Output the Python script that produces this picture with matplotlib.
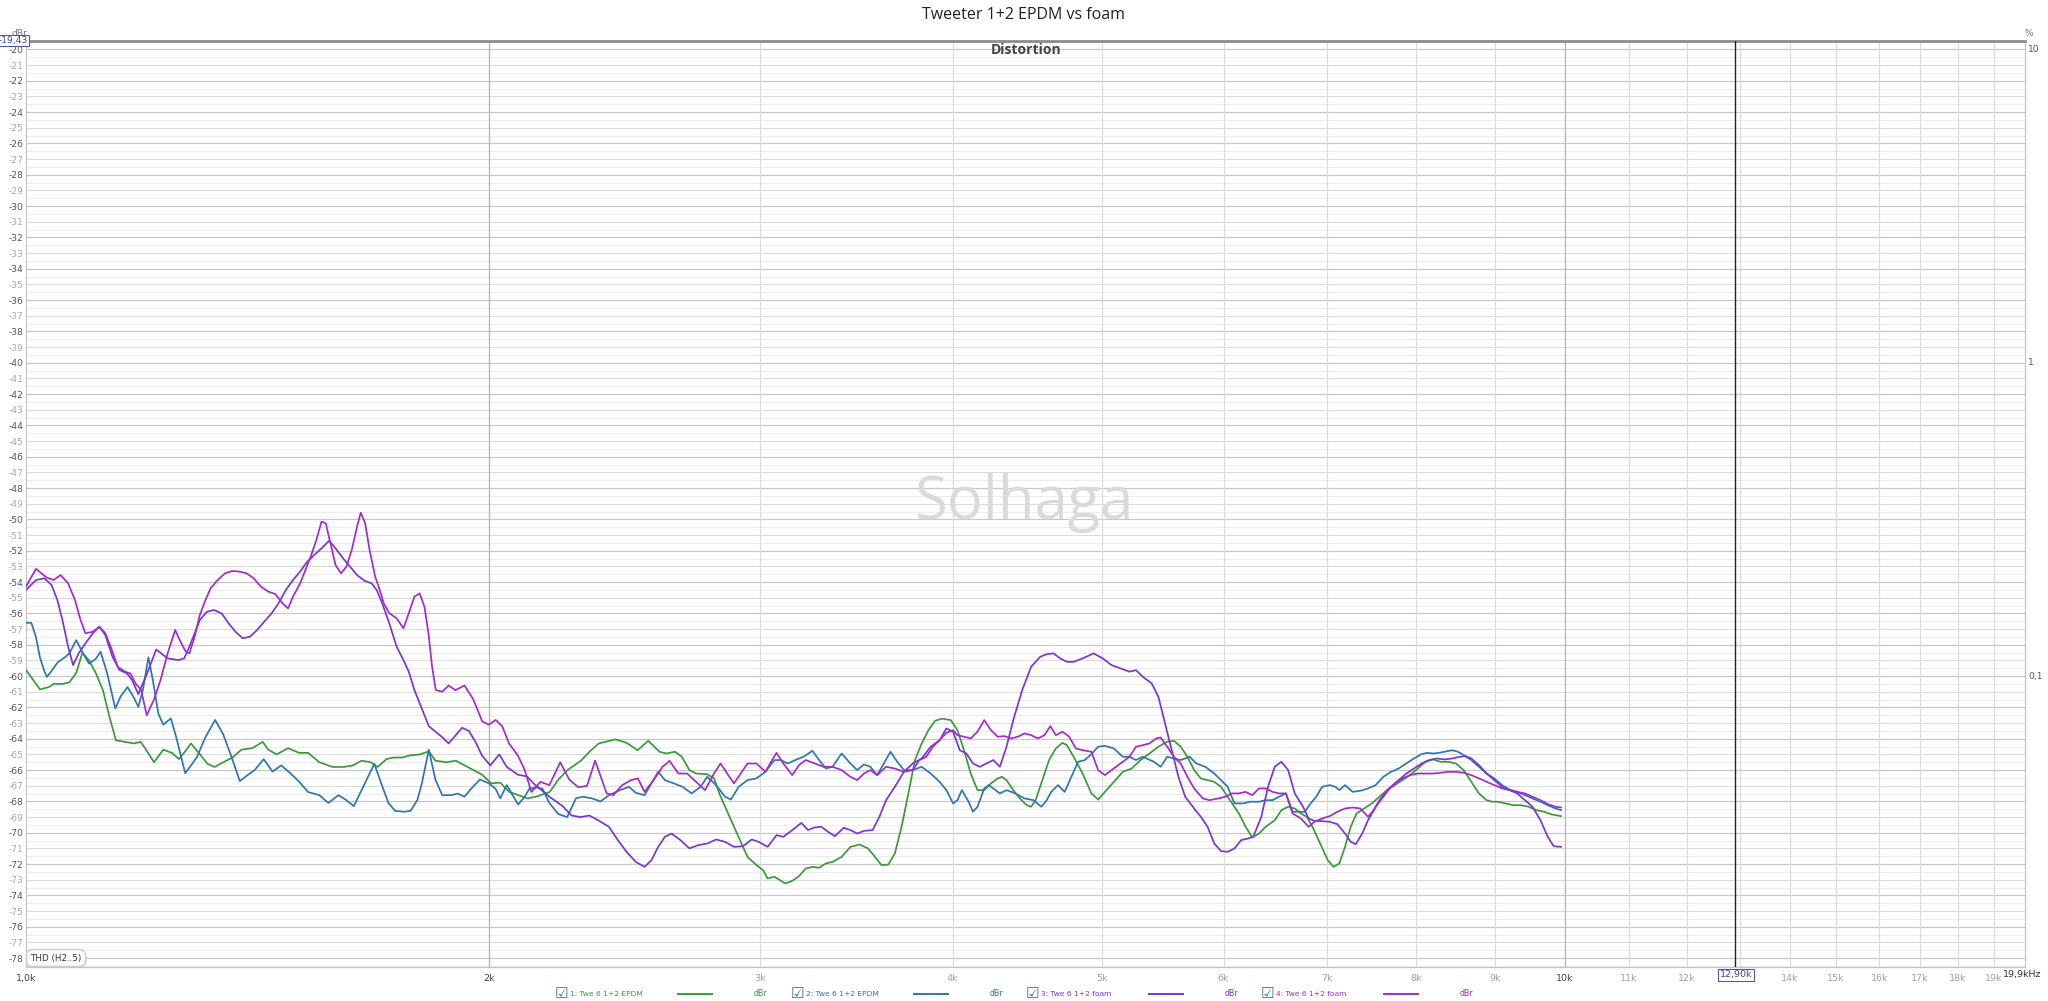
import numpy as np
import matplotlib
matplotlib.use('Agg')
import matplotlib.pyplot as plt
from matplotlib.lines import Line2D
from matplotlib.transforms import blended_transform_factory

# ---------------- data ----------------
title = 'Tweeter 1+2 EPDM vs foam'
subtitle = 'Distortion'
watermark = 'Solhaga'

series_labels = ['1: Twe 6 1+2 EPDM', '2: Twe 6 1+2 EPDM', '3: Twe 6 1+2 foam', '4: Twe 6 1+2 foam']
series_colors = ['#3a9a3a', '#2e75b6', '#7b35d6', '#a22ccb']

s1_freq = [1000, 1021, 1035, 1042, 1056, 1067, 1078, 1088, 1099, 1110, 1122, 1133, 1144, 1160, 1175, 1187, 1195, 1211,
           1228, 1244, 1257, 1269, 1280, 1295, 1312, 1326, 1343, 1362, 1380, 1403, 1425, 1437, 1455, 1480, 1505, 1525,
           1551, 1582, 1609, 1631, 1652, 1675, 1692, 1715, 1732, 1755, 1779, 1803, 1827, 1845, 1876, 1902, 1927, 1953,
           1979, 2006, 2033, 2061, 2089, 2117, 2145, 2189, 2218, 2248, 2294, 2325, 2356,
           2416, 2456, 2497, 2537, 2580, 2606, 2641, 2668, 2698, 2725, 2771, 2799, 2827, 2865, 2904, 2943, 2983, 3013,
           3033, 3064, 3084, 3115, 3147, 3179, 3211, 3243, 3276, 3309, 3342, 3388, 3433, 3480, 3525, 3561, 3597, 3633,
           3669, 3706, 3744, 3781, 3819, 3858, 3897, 3936, 3989, 4029, 4069, 4110, 4152, 4194, 4236, 4279, 4307, 4336,
           4380, 4424, 4469, 4499, 4529, 4575, 4621, 4668, 4715, 4746, 4794, 4859, 4923, 4973, 5024, 5091, 5160, 5229,
           5299, 5370, 5442, 5515, 5570, 5627, 5684, 5741, 5799, 5858, 5917, 5977, 6058, 6139, 6201, 6263, 6326, 6390,
           6477, 6542, 6608, 6674,
           6736, 6794, 6853, 6932, 7012, 7073, 7134, 7195, 7257, 7320, 7404, 7489, 7575, 7663, 7751, 7841, 7931, 8022,
           8114, 8208, 8302, 8398, 8494, 8592, 8691, 8791, 8893, 8969, 9047, 9151, 9256, 9363, 9471, 9580, 9690, 9802,
           9943]
s1_db = [-59.6, -60.85, -60.7, -60.5, -60.5, -60.4, -59.8, -58.5, -59.0, -59.8, -60.9, -62.6, -64.1, -64.2, -64.3,
         -64.2, -64.6, -65.5, -64.7, -64.9, -65.3, -64.8, -64.3, -64.9, -65.6, -65.8, -65.5, -65.2, -64.7, -64.6, -64.2,
         -64.7, -65.0, -64.6, -64.9, -64.9, -65.5, -65.8, -65.8, -65.7, -65.4, -65.5, -65.8, -65.3, -65.2, -65.2, -65.05,
         -65.0, -64.8, -65.4, -65.5, -65.4, -65.7, -66.0, -66.3, -66.85, -66.8, -67.4, -67.6, -67.8, -67.7, -67.4, -66.6,
         -66.0, -65.4, -64.8, -64.3,
         -64.04, -64.26, -64.73, -64.13, -64.83, -64.94, -64.83, -65.15, -66.0, -66.22, -66.26, -66.53, -67.7, -68.98,
         -70.26, -71.54, -72.07, -72.39, -72.92, -72.81, -72.98, -73.24, -73.07, -72.77, -72.28, -72.18, -72.24, -71.96,
         -71.86, -71.54, -70.9, -70.75, -71.0, -71.54, -72.07, -72.03, -71.32, -69.62, -67.49, -65.36, -64.3, -63.45,
         -62.85, -62.72, -62.81, -63.45, -64.73, -66.22, -67.28, -67.28, -66.85, -66.53, -66.43, -66.64, -67.28, -67.81,
         -68.24, -68.34, -67.92, -66.64, -65.36, -64.62, -64.26, -64.41, -65.15, -66.22, -67.49, -67.88, -67.39, -66.75,
         -66.11, -65.9, -65.36, -64.94, -64.51, -64.19, -64.13, -64.51, -65.15, -66.0, -66.53, -66.64, -66.75, -67.07,
         -67.92, -68.77, -69.62, -70.3, -70.05, -69.62, -69.2, -68.56, -68.34, -68.45,
         -68.77, -68.98, -69.62, -70.69, -71.75, -72.18, -71.96, -70.9, -69.62, -68.77, -68.45, -68.13, -67.7, -67.28,
         -66.96, -66.64, -66.32, -65.9, -65.47, -65.32, -65.47, -65.47, -65.58, -66.0, -66.75, -67.49, -67.92, -68.02,
         -68.02, -68.13, -68.24, -68.24, -68.34, -68.56, -68.66, -68.83, -68.94]

s2_freq = [1000, 1008, 1015, 1021, 1028, 1032, 1042, 1049, 1060, 1067, 1078, 1089, 1099, 1110, 1118, 1129, 1143, 1152,
           1164, 1174, 1183, 1191, 1201, 1209, 1219, 1228, 1242, 1252, 1269, 1291, 1308, 1327, 1343, 1357, 1377, 1394,
           1408, 1427, 1446, 1465, 1485, 1505, 1525, 1551, 1572, 1596, 1614, 1633, 1658, 1684, 1703, 1720, 1737, 1761,
           1778, 1796, 1808, 1827, 1845, 1864, 1889, 1908, 1927, 1946, 1972, 1999, 2019, 2033, 2053, 2074, 2088, 2109,
           2123, 2144, 2166, 2188, 2217, 2247, 2277, 2300, 2331, 2362,
           2392, 2432, 2465, 2490, 2523, 2549, 2575, 2601, 2636, 2671, 2707, 2743, 2771, 2808, 2846, 2871, 2904, 2943,
           2983, 3023, 3064, 3094, 3125, 3168, 3200, 3243, 3276, 3309, 3342, 3388, 3433, 3468, 3503, 3537, 3573, 3609,
           3645, 3682, 3719, 3768, 3819, 3871, 3923, 3963, 4003, 4029, 4056, 4097, 4124, 4152, 4194, 4222, 4251, 4293,
           4336, 4394, 4454, 4514, 4569, 4605, 4636, 4683, 4730, 4778, 4826, 4875, 4923, 4973, 5024, 5091, 5160, 5212,
           5263, 5316, 5406, 5460, 5515, 5570, 5627, 5703, 5760, 5838, 5917, 5977, 6037, 6098, 6180, 6242, 6326, 6390,
           6455, 6520, 6586, 6652,
           6775, 6833, 6892, 6952, 7032, 7093, 7134, 7195, 7278, 7362, 7447, 7532, 7619, 7707, 7796, 7886, 7976, 8068,
           8138, 8208, 8279, 8351, 8446, 8520, 8592, 8691, 8791, 8893, 8995, 9101, 9203, 9310, 9417, 9525, 9639, 9745,
           9858, 9943]
s2_db = [-56.6, -56.6, -57.5, -58.8, -59.7, -60.05, -59.5, -59.1, -58.8, -58.55, -57.7, -58.55, -59.2, -58.9, -58.45,
         -59.8, -62.07, -61.3, -60.7, -61.3, -61.96, -60.9, -58.8, -60.26, -62.4, -63.1, -62.7, -63.9, -66.2, -65.2,
         -63.9, -62.8, -63.7, -64.9, -66.7, -66.3, -66.0, -65.3, -66.1, -65.7, -66.2, -66.75, -67.4, -67.6, -68.1, -67.6,
         -67.9, -68.3, -66.96, -65.6, -66.96, -68.1, -68.6, -68.66, -68.6, -67.9, -66.85, -64.7, -66.6, -67.6, -67.6,
         -67.5, -67.7, -67.2, -66.6, -66.85, -67.2, -67.8, -66.96, -67.7, -68.2, -67.7, -67.2, -67.1, -67.2, -68.1,
         -68.8, -69.0, -67.8, -67.7, -67.8, -68.0,
         -67.6, -67.28, -67.07, -67.45, -67.6, -66.85, -66.11, -66.64, -66.85, -67.07, -67.49, -67.07, -66.43, -66.96,
         -67.7, -67.88, -67.07, -66.64, -66.53, -66.11, -65.36, -65.36, -65.58, -65.32, -65.15, -64.77, -65.36, -65.9,
         -65.79, -64.94, -65.58, -66.0, -65.64, -65.79, -66.32, -65.58, -64.83, -65.47, -66.0, -66.0, -65.79, -66.22,
         -66.75, -67.28, -68.13, -67.92, -67.28, -68.02, -68.66, -68.34, -67.17, -66.96, -67.17, -67.49, -67.28, -67.49,
         -67.81, -67.92, -68.34, -67.92, -67.39, -66.96, -67.39, -66.43, -65.47, -65.36, -64.98, -64.51, -64.45, -64.62,
         -65.15, -65.15, -65.36, -65.15, -65.47, -65.79, -65.15, -65.26, -65.36, -65.15, -65.58, -65.79, -66.22, -66.64,
         -67.07, -68.13, -68.13, -68.02, -68.02, -67.92, -67.92, -67.7, -67.49, -68.66,
         -68.66, -68.13, -67.7, -67.07, -66.96, -67.07, -67.28, -66.96, -67.39, -67.32, -67.17, -66.96, -66.43, -66.11,
         -65.9, -65.58, -65.26, -64.98, -64.9, -64.94, -64.9, -64.83, -64.73, -64.83, -65.04, -65.36, -65.79, -66.22,
         -66.53, -66.96, -67.24, -67.39, -67.6, -67.81, -68.02, -68.24, -68.45, -68.56]

s3_freq = [1000, 1015, 1028, 1039, 1048, 1056, 1065, 1073, 1082, 1093, 1105, 1116, 1126, 1138, 1150, 1163, 1172, 1183,
           1199, 1215, 1236, 1256, 1267, 1277, 1287, 1297, 1311, 1325, 1340, 1354, 1368, 1383, 1398, 1413, 1428, 1444,
           1459, 1475, 1491, 1507, 1523, 1539, 1556, 1574, 1589, 1607, 1624, 1641, 1659, 1677, 1690, 1704, 1722, 1741,
           1759, 1773, 1788, 1827, 1864, 1882, 1920, 1940, 1959, 1979, 2003, 2030, 2053, 2088, 2116, 2137, 2188, 2232,
           2262, 2292, 2323, 2354,
           2392, 2424, 2456, 2490, 2523, 2549, 2575, 2601, 2627, 2662, 2698, 2734, 2771, 2808, 2846, 2884, 2923, 2962,
           2992, 3033, 3074, 3105, 3147, 3190, 3222, 3254, 3287, 3320, 3354, 3399, 3433, 3468, 3503, 3549, 3585, 3621,
           3669, 3719, 3768, 3819, 3871, 3923, 3963, 4003, 4043, 4083, 4124, 4166, 4208, 4251, 4293, 4336, 4380, 4439,
           4499, 4560, 4605, 4652, 4699, 4746, 4794, 4859, 4940, 5007, 5074, 5142, 5212, 5263, 5316, 5388, 5442, 5497,
           5552, 5608, 5665, 5741, 5799, 5858, 5917, 5977, 6037, 6098, 6160, 6222, 6272, 6348, 6412, 6477, 6542, 6608,
           6674,
           6757, 6814, 6873, 6952, 7032, 7113, 7195, 7257, 7311, 7383, 7447, 7532, 7619, 7707, 7796, 7886, 7976, 8068,
           8161, 8255, 8351, 8446, 8543, 8617, 8691, 8791, 8893, 8995, 9101, 9203, 9310, 9417, 9525, 9639, 9745, 9831,
           9943]
s3_db = [-54.5, -53.87, -53.76, -54.19, -55.14, -56.42, -58.12, -59.3, -58.55, -57.91, -57.27, -56.85, -57.38, -58.76,
         -59.61, -59.83, -60.25, -61.15, -59.8, -58.3, -58.87, -58.98, -58.87, -58.12, -57.27, -56.42, -55.89, -55.78,
         -56.0, -56.63, -57.17, -57.59, -57.49, -57.06, -56.53, -56.0, -55.36, -54.51, -53.87, -53.33, -52.7, -52.27,
         -51.85, -51.36, -51.85, -52.48, -53.02, -53.55, -53.91, -54.08, -54.51, -55.36, -56.63, -58.12, -58.98, -59.72,
         -60.89, -63.2, -63.9, -64.3, -63.3, -63.5, -64.2, -65.1, -65.7, -65.0, -65.8, -66.3, -66.4, -66.85, -67.7,
         -68.3, -68.9, -69.0, -68.9, -69.2,
         -69.62, -70.47, -71.22, -71.86, -72.18, -71.75, -70.9, -70.26, -70.05, -70.47, -71.0, -70.79, -70.69, -70.43,
         -70.58, -70.9, -70.86, -70.43, -70.58, -70.9, -70.15, -70.26, -69.83, -69.37, -69.83, -69.66, -69.62, -69.94,
         -70.22, -69.68, -69.83, -70.05, -69.88, -69.83, -68.98, -67.92, -67.07, -66.11, -65.58, -65.26, -64.51, -64.09,
         -63.34, -63.55, -64.73, -64.94, -65.58, -65.79, -65.58, -65.36, -65.79, -64.51, -62.81, -60.89, -59.4, -58.77,
         -58.6, -58.55, -58.87, -59.09, -59.09, -58.87, -58.55, -58.87, -59.3, -59.51, -59.72, -59.62, -60.04, -60.47,
         -61.32, -63.02, -64.73, -66.43, -67.7, -68.45, -68.98, -69.62, -70.69, -71.17, -71.22, -71.0, -70.47, -70.37,
         -70.26, -68.98, -67.07, -65.79, -65.47, -66.0, -67.49,
         -68.34, -69.09, -69.24, -69.26, -69.3, -69.45, -70.05, -70.58, -70.73, -70.05, -69.2, -68.34, -67.7, -67.07,
         -66.64, -66.22, -65.9, -65.58, -65.36, -65.26, -65.32, -65.26, -65.15, -65.11, -65.26, -65.68, -66.22, -66.64,
         -67.07, -67.28, -67.49, -67.92, -68.34, -69.2, -70.26, -70.86, -70.9]

s4_freq = [1000, 1015, 1031, 1042, 1053, 1065, 1076, 1085, 1093, 1105, 1116, 1126, 1135, 1147, 1160, 1169, 1178, 1188,
           1198, 1211, 1223, 1236, 1250, 1260, 1270, 1277, 1287, 1297, 1308, 1318, 1332, 1347, 1361, 1376, 1391, 1406,
           1421, 1437, 1452, 1468, 1480, 1491, 1507, 1519, 1531, 1544, 1556, 1566, 1577, 1589, 1602, 1615, 1628, 1641,
           1650, 1661, 1672, 1686, 1695, 1708, 1722, 1741, 1759, 1773, 1788, 1802, 1815, 1826, 1836, 1846, 1864, 1882,
           1901, 1927, 1953, 1979, 1999, 2019, 2039, 2060, 2088, 2109, 2130, 2159, 2188, 2224, 2254, 2285, 2315, 2343,
           2384, 2408, 2440, 2473, 2498, 2523, 2557, 2592, 2619, 2654, 2689, 2725, 2762, 2799, 2827, 2855, 2884, 2913,
           2943, 2983, 3023, 3053, 3074, 3105, 3147, 3179, 3211, 3254, 3297, 3342, 3388, 3433, 3468, 3503, 3537, 3573,
           3621, 3669, 3719, 3768, 3806, 3845, 3884, 3923, 3963, 4003, 4029, 4069, 4110, 4152, 4194, 4236, 4279, 4322,
           4366, 4410, 4454, 4499, 4544, 4590, 4630, 4668, 4715, 4762, 4810, 4859, 4923, 4973, 5024, 5074, 5142, 5212,
           5263, 5316, 5370, 5424, 5460, 5515, 5570, 5627, 5684, 5741, 5816, 5874, 5953, 6016, 6077, 6139, 6201, 6263,
           6326, 6390, 6455, 6520, 6586, 6652,
           6736, 6814, 6873, 6952, 7032, 7113, 7195, 7278, 7362, 7447, 7511, 7575, 7663, 7751, 7841, 7931, 8022, 8114,
           8208, 8302, 8398, 8494, 8592, 8691, 8791, 8893, 8995, 9101, 9203, 9310, 9417, 9525, 9639, 9745, 9858, 9943]
s4_db = [-54.29, -53.16, -53.7, -53.87, -53.55, -54.08, -55.14, -56.42, -57.27, -57.17, -56.85, -57.27, -58.12, -59.4,
         -59.72, -59.83, -60.47, -60.89, -62.5, -61.5, -60.25, -58.55, -57.06, -57.8, -58.44, -58.55, -57.48, -56.1,
         -55.14, -54.4, -53.87, -53.44, -53.29, -53.33, -53.44, -53.76, -54.29, -54.61, -54.76, -55.36, -55.68, -54.93,
         -54.08, -53.23, -52.38, -51.31, -50.14, -50.25, -51.53, -52.91, -53.44, -53.02, -51.95, -50.46, -49.57, -50.25,
         -51.95, -53.65, -54.29, -55.36, -55.99, -56.31, -56.95, -55.99, -54.93, -54.72, -55.57, -57.27, -59.4, -60.89,
         -61.0, -60.6, -60.9, -60.6, -61.5, -62.9, -63.1, -62.8, -63.2, -64.3, -65.1, -66.0, -67.4, -66.75, -66.96,
         -65.5, -66.6, -67.1, -67.0, -65.4,
         -67.49, -67.6, -66.96, -66.64, -66.53, -67.39, -66.64, -65.79, -65.41, -66.22, -66.22, -66.75, -67.28, -66.22,
         -65.58, -66.22, -66.85, -66.22, -65.58, -65.58, -66.11, -65.36, -64.9, -65.58, -66.32, -65.68, -65.36, -65.58,
         -65.79, -65.79, -66.0, -66.43, -66.64, -66.22, -66.0, -66.32, -65.79, -65.9, -66.11, -66.0, -65.36, -65.15,
         -64.51, -64.09, -63.62, -63.45, -63.77, -63.87, -63.98, -63.55, -62.81, -63.45, -63.87, -63.83, -63.98, -63.87,
         -63.66, -63.77, -63.98, -63.77, -63.19, -63.77, -63.55, -63.87, -64.62, -64.73, -64.83, -66.0, -66.32, -66.0,
         -65.58, -65.15, -64.51, -64.41, -64.3, -63.98, -63.92, -64.51, -65.15, -65.58, -66.43, -67.17, -67.81, -67.92,
         -67.81, -67.7, -67.49, -67.49, -67.39, -67.6, -67.17, -67.17, -67.39, -67.49, -67.49, -68.77,
         -69.09, -69.62, -69.3, -69.09, -68.94, -68.66, -68.45, -68.39, -68.45, -68.98, -68.56, -67.92, -67.28, -66.85,
         -66.53, -66.32, -66.22, -66.22, -66.22, -66.17, -66.11, -66.11, -66.17, -66.32, -66.53, -66.75, -66.96, -67.17,
         -67.28, -67.39, -67.49, -67.7, -67.92, -68.17, -68.34, -68.39]

x_ticks = [1000, 2000, 3000, 4000, 5000, 6000, 7000, 8000, 9000, 10000, 11000, 12000, 14000, 15000, 16000, 17000,
           18000, 19000]
x_tick_labels = ['1,0k', '2k', '3k', '4k', '5k', '6k', '7k', '8k', '9k', '10k', '11k', '12k', '14k', '15k', '16k',
                 '17k', '18k', '19k']
x_major = [1000, 2000, 10000]
x_grid = [2000, 3000, 4000, 5000, 6000, 7000, 8000, 9000, 10000, 11000, 12000, 13000, 14000, 15000, 16000, 17000,
          18000, 19000]
y_ticks = list(range(-78, -19))
pct_ticks = [10, 1, 0.1]
pct_labels = ['10', '1', '0,1']
x_min, x_max = 1000, 19900
y_min, y_max = -78.55, -19.43
cursor_freq = 12900
cursor_label = '12,90k'
cursor_db_label = '-19,43'
end_label = '19,9kHz'
thd_label = 'THD (H2..5)'
unit_label = 'dBr'

# ---------------- figure ----------------
W, H = 2048, 1001
fig = plt.figure(figsize=(W / 100, H / 100), dpi=100)
fig.patch.set_facecolor('white')


def fx(px):
    return px / W


def fy(py):
    return 1 - py / H


ax = fig.add_axes([fx(26), fy(966.7), fx(2025) - fx(26), fy(40.5) - fy(966.7)])
ax.set_xscale('log')
ax.set_xlim(x_min, x_max)
ax.set_ylim(y_min, y_max)
ax.set_facecolor('white')

# horizontal grid every 0.5 dB
for v in np.arange(-78.5, -19.4, 0.5):
    if abs(v - round(v)) < 1e-6:
        if int(round(v)) % 2 == 0:
            c, lw = '#c8c8c8', 0.9
        else:
            c, lw = '#dcdcdc', 0.8
    else:
        c, lw = '#ededed', 0.7
    ax.axhline(v, color=c, lw=lw, zorder=0)
for f in x_grid:
    ax.axvline(f, color='#b3b3b3' if f in x_major else '#dcdcdc', lw=0.9, zorder=0)

# curves
freqs = [s1_freq, s2_freq, s3_freq, s4_freq]
dbs = [s1_db, s2_db, s3_db, s4_db]
for fr, d, c in zip(freqs, dbs, series_colors):
    ax.plot(fr, d, color=c, lw=1.25, solid_joinstyle='round', solid_capstyle='round', zorder=3)

# cursor
ax.axvline(cursor_freq, color='#222222', lw=1.0, zorder=4)

for s in ['left', 'bottom', 'right']:
    ax.spines[s].set_color('#c4c4c4')
    ax.spines[s].set_linewidth(0.9)
ax.spines['top'].set_color('#8c8c8c')
ax.spines['top'].set_linewidth(2.0)

tick_font = ['Liberation Sans Narrow', 'DejaVu Sans']
ax.set_xticks(x_ticks)
ax.set_xticklabels(x_tick_labels)
ax.xaxis.set_minor_locator(matplotlib.ticker.NullLocator())
ax.tick_params(axis='x', length=0, pad=5, labelsize=6.8)
for lab, f in zip(ax.get_xticklabels(), x_ticks):
    lab.set_fontfamily(tick_font)
    lab.set_color('#444444' if f in x_major else '#a0a0a0')
ax.set_yticks(y_ticks)
ax.set_yticklabels([str(v) for v in y_ticks])
ax.tick_params(axis='y', length=0, pad=2, labelsize=6.6)
for lab, v in zip(ax.get_yticklabels(), y_ticks):
    lab.set_fontfamily(tick_font)
    lab.set_color('#555555' if v % 2 == 0 else '#a8a8a8')

# right % labels
tr = blended_transform_factory(ax.transAxes, ax.transData)
for p, lbl in zip(pct_ticks, pct_labels):
    ax.text(1.0015, 20 * np.log10(p / 100.0), lbl, transform=tr, ha='left', va='center', fontsize=6.6,
            color='#555555', family=tick_font)
fig.text(fx(2029), fy(33), '%', ha='center', va='center', fontsize=6.6, color='#777777', family=tick_font)
fig.text(fx(19), fy(33), unit_label, ha='center', va='center', fontsize=6.6, color='#777777', family=tick_font)

# end label and cursor label
fig.text(fx(2022), fy(975), end_label, ha='center', va='center', fontsize=6.8, color='#333333', family=tick_font)
fig.text(fx(1736), fy(975), cursor_label, ha='center', va='center', fontsize=6.8, color='#3a4a90', family=tick_font,
         bbox=dict(boxstyle='square,pad=0.15', fc='white', ec='#4a5aa8', lw=0.8))
fig.text(fx(13), fy(40.5), cursor_db_label, ha='center', va='center', fontsize=6.6, color='#3a4a90',
         family=tick_font, bbox=dict(boxstyle='square,pad=0.15', fc='white', ec='#4a5aa8', lw=0.8), zorder=10)

# titles / watermark
fig.text(fx(1024), fy(15), title, ha='center', va='center', fontsize=11.5, color='#222222', family='Open Sans')
fig.text(fx(1026), fy(50.5), subtitle, ha='center', va='center', fontsize=10, fontweight='bold', color='#444444',
         family='Open Sans')
fig.text(fx(1025), fy(503), watermark, ha='center', va='center', fontsize=43, color='#dadada', family='Open Sans',
         zorder=1)

# THD box
fig.text(fx(56), fy(958), thd_label, ha='center', va='center', fontsize=6.3, color='#333333', family=tick_font,
         bbox=dict(boxstyle='round,pad=0.45,rounding_size=0.7', fc='white', ec='#cfcfcf', lw=1.2))

# legend
leg_x = [561, 797, 1032, 1267]
leg_y = fy(993.7)
for x0, lbl, c in zip(leg_x, series_labels, series_colors):
    fig.text(fx(x0), leg_y, '\u2611', ha='center', va='center', fontsize=11, color='#3b6fc4', family='DejaVu Sans')
    fig.text(fx(x0 + 9), leg_y, lbl, ha='left', va='center', fontsize=5.4, color=c, family=tick_font)
    fig.add_artist(Line2D([fx(x0 + 117), fx(x0 + 151)], [leg_y, leg_y], transform=fig.transFigure, color=c, lw=1.4))
    fig.text(fx(x0 + 199), leg_y, unit_label, ha='center', va='center', fontsize=5.6, color=c, family=tick_font)

fig.savefig('out.png', dpi=100, facecolor='white')
